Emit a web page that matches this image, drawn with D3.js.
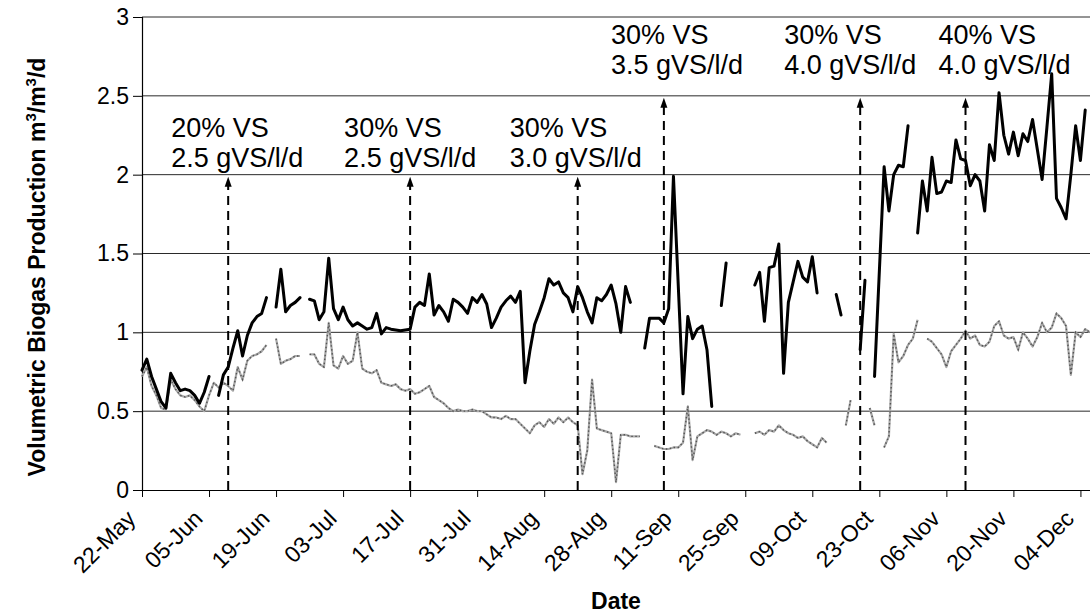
<!DOCTYPE html>
<html>
<head>
<meta charset="utf-8">
<script src="https://cdn.jsdelivr.net/npm/d3@7"></script>
<style>
  html, body { margin: 0; padding: 0; background: #fff; }
  svg { display: block; }
  text { font-family: "Liberation Sans", Arial, Helvetica, sans-serif; fill: #000; }
</style>
</head>
<body>
<svg id="chart" width="1090" height="613"></svg>
<script>
// ---- data -------------------------------------------------------------
const year = 2005;
const startLabel = "22-May";
const endLabel = "06-Dec";
const xTickLabels = ["22-May", "05-Jun", "19-Jun", "03-Jul", "17-Jul", "31-Jul", "14-Aug",
  "28-Aug", "11-Sep", "25-Sep", "09-Oct", "23-Oct", "06-Nov", "20-Nov", "04-Dec"];
const yTicks = [0, 0.5, 1, 1.5, 2, 2.5, 3];

// day offsets from 22-May; a null value breaks the line
const blackDays = [0,1,2,3,4,5,6,7,8,9,10,11,12,13,14,15,16,17,18,19,20,21,22,23,24,25,26,27,
  28,29,30,31,32,33,34,35,36,37,38,39,40,41,42,43,44,45,46,47,48,49,50,51,52,54,56,57,58,59,
  60,61,62,63,64,65,66,67,68,69,70,71,72,73,74,75,76,77,78,79,80,81,82,83,84,85,86,87,88,89,
  90,91,92,93,94,95,96,97,98,99,100,101,102,103,105,106,107,108,109,110,111,113,114,115,116,
  117,118,119,120,121,122,123,128,129,130,131,132,133,134,135,136,137,138,139,140,141,142,
  145,146,147,150,151,152,153,155,156,157,158,159,160,161,162,163,164,165,166,167,168,169,
  170,171,172,173,174,175,176,177,178,179,180,181,182,183,184,185,186,188,189,190,191,192,
  193,194,195,196,197];
const blackValues = [0.76,0.83,0.72,0.64,0.56,0.52,0.74,0.68,0.63,0.64,0.63,0.60,0.55,0.62,0.72,
  null,0.60,0.73,0.78,0.90,1.01,0.85,0.98,1.06,1.10,1.12,1.22,null,
  1.16,1.40,1.13,1.17,1.19,1.22,null,1.21,1.20,1.08,1.13,1.47,1.15,1.08,1.16,1.08,1.04,1.06,
  1.04,1.02,1.03,1.12,0.99,1.03,1.02,1.01,1.02,1.16,1.19,1.17,
  1.37,1.11,1.17,1.13,1.07,1.21,1.19,1.16,1.12,1.22,1.19,1.24,1.18,1.03,1.09,1.16,1.20,1.23,
  1.19,1.26,0.68,0.88,1.05,1.13,1.22,1.34,1.30,1.32,1.25,1.22,
  1.13,1.29,1.22,1.13,1.06,1.22,1.20,1.24,1.30,1.18,1.00,1.29,1.19,null,0.90,1.09,1.09,1.09,
  1.06,1.15,1.99,0.61,1.10,0.96,1.02,
  1.04,0.89,0.53,null,1.17,1.44,null,1.30,1.38,1.07,1.41,1.42,1.56,0.74,1.19,1.32,1.45,1.35,
  1.32,1.48,1.25,null,
  1.24,1.11,null,0.89,1.33,null,0.72,2.05,1.77,2.00,2.06,2.05,2.31,null,1.63,1.96,1.77,2.11,
  1.88,1.89,1.96,1.95,
  2.22,2.10,2.09,1.93,2.00,1.96,1.77,2.19,2.09,2.52,2.25,2.13,2.27,2.12,2.26,2.21,2.35,1.97,
  2.30,2.64,1.85,1.79,
  1.72,2.00,2.31,2.09,2.41];

const greyDays = [0,1,2,3,4,5,6,7,8,9,10,11,12,13,14,15,16,17,18,19,20,21,22,23,24,25,26,27,
  28,29,30,31,32,33,34,35,36,37,38,39,40,41,42,43,44,45,46,47,48,49,50,51,52,53,54,55,56,57,
  58,59,60,61,62,63,64,65,66,67,68,69,70,71,72,73,74,75,76,77,78,79,80,81,82,83,84,85,86,87,
  88,89,90,91,92,93,94,95,96,97,98,99,100,101,102,103,104,105,107,108,109,110,111,112,113,
  114,115,116,117,118,119,120,121,122,123,124,125,126,128,129,130,131,132,133,134,135,136,
  137,138,139,140,141,142,143,144,147,148,149,152,153,154,155,156,157,158,159,160,161,162,
  163,164,165,166,167,168,169,170,171,172,173,174,175,176,177,178,179,180,181,182,183,184,
  185,186,187,188,189,190,191,192,193,194,195,196,197,198];
const greyValues = [0.72,0.78,0.66,0.60,0.52,0.51,0.70,0.64,0.60,0.59,0.60,0.57,0.53,0.50,0.60,
  0.68,0.65,0.68,0.66,0.63,0.78,0.70,0.82,0.85,0.86,0.88,0.92,null,
  0.96,0.80,0.82,0.83,0.85,0.85,null,0.86,0.86,0.80,0.78,1.06,0.79,0.77,0.85,0.80,0.82,1.00,
  0.77,0.75,0.74,0.76,0.68,0.67,0.66,0.67,0.64,0.63,0.64,0.61,
  0.62,0.64,0.66,0.59,0.57,0.55,0.52,0.50,0.51,0.50,0.50,0.51,0.50,0.50,0.48,0.46,0.46,0.45,
  0.47,0.45,0.45,0.42,0.39,0.36,0.41,0.43,0.40,0.45,0.42,0.46,
  0.43,0.46,0.43,0.41,0.10,0.25,0.70,0.39,0.38,0.37,0.36,0.05,0.35,0.35,0.34,0.34,0.34,null,
  0.28,0.27,0.26,0.26,0.27,0.27,0.30,
  0.53,0.19,0.34,0.36,0.38,0.37,0.35,0.37,0.36,0.34,0.36,0.35,null,0.36,0.37,0.35,0.38,0.37,
  0.41,0.38,0.36,0.35,
  0.33,0.34,0.31,0.29,0.27,0.33,0.30,null,0.41,0.57,null,0.52,0.41,null,0.27,0.34,0.99,0.81,
  0.85,0.92,0.96,1.08,
  null,0.96,0.94,0.90,0.86,0.78,0.88,0.92,0.96,1.01,0.96,0.98,0.92,0.91,0.94,1.04,1.07,0.98,
  0.96,0.97,0.89,1.00,
  0.96,0.91,0.97,1.06,1.00,1.03,1.12,1.09,1.04,0.73,1.00,0.97,1.02,1.00];

// feed-regime changes (day offsets) with their labels
const changeDays = [18, 56, 91, 109, 150, 172];
const changeVS = ["20% VS", "30% VS", "30% VS", "30% VS", "30% VS", "40% VS"];
const changeLoad = ["2.5 gVS/l/d", "2.5 gVS/l/d", "3.0 gVS/l/d", "3.5 gVS/l/d", "4.0 gVS/l/d", "4.0 gVS/l/d"];

// ---- layout -----------------------------------------------------------
const W = 1090, H = 613;
const plot = { left: 142, right: 1090, top: 17, bottom: 490 };
const parseDay = d3.utcParse("%d-%b-%Y");
const dayOf = label => parseDay(label + "-" + year);
const start = dayOf(startLabel);
const toDate = n => d3.utcDay.offset(start, n);

const x = d3.scaleUtc().domain([start, dayOf(endLabel)]).range([plot.left, plot.right]);
const y = d3.scaleLinear().domain([0, 3]).range([plot.bottom, plot.top]);

const svg = d3.select("#chart");

// horizontal gridlines
svg.append("g").selectAll("line")
  .data(yTicks.filter(v => v > 0))
  .join("line")
  .attr("x1", plot.left).attr("x2", plot.right)
  .attr("y1", d => y(d)).attr("y2", d => y(d))
  .attr("stroke", "#2a2a2a").attr("stroke-width", 1);

// y axis
const yAxis = svg.append("g")
  .attr("transform", `translate(${plot.left},0)`)
  .call(d3.axisLeft(y).tickValues(yTicks).tickSize(9).tickPadding(4).tickFormat(d => String(d)));
yAxis.select(".domain").attr("stroke", "#000").attr("stroke-width", 1.2);
yAxis.selectAll(".tick line").attr("stroke", "#000");
yAxis.selectAll(".tick text")
  .attr("font-size", 23).attr("font-family", "Liberation Sans, Arial, sans-serif").attr("fill", "#000");

// x axis
const tickDates = xTickLabels.map(dayOf);
const xAxis = svg.append("g")
  .attr("transform", `translate(0,${plot.bottom})`)
  .call(d3.axisBottom(x).tickValues(tickDates).tickSize(7).tickSizeOuter(0).tickFormat(() => ""));
xAxis.select(".domain").attr("stroke", "#000").attr("stroke-width", 1.2);
xAxis.selectAll(".tick line").attr("stroke", "#000");

svg.append("g").selectAll("text")
  .data(tickDates)
  .join("text")
  .attr("transform", (d, i) => `translate(${x(d) - 5},${plot.bottom + 30}) rotate(-45)`)
  .attr("text-anchor", "end")
  .attr("font-size", 23)
  .text((d, i) => xTickLabels[i]);

// axis titles
svg.append("text")
  .attr("x", (plot.left + plot.right) / 2).attr("y", 609)
  .attr("text-anchor", "middle")
  .attr("font-size", 23).attr("font-weight", "bold")
  .text("Date");

const yTitle = svg.append("text")
  .attr("transform", "translate(45,267) rotate(-90)")
  .attr("text-anchor", "middle")
  .attr("font-size", 23).attr("font-weight", "bold");
yTitle.append("tspan").text("Volumetric Biogas Production m");
yTitle.append("tspan").attr("font-size", 15).attr("dy", -9).text("3");
yTitle.append("tspan").attr("dy", 9).text("/m");
yTitle.append("tspan").attr("font-size", 15).attr("dy", -9).text("3");
yTitle.append("tspan").attr("dy", 9).text("/d");

// series
const line = d3.line()
  .defined(d => d.v != null)
  .x(d => x(toDate(d.day)))
  .y(d => y(d.v));

const greyData = greyDays.map((d, i) => ({ day: d, v: greyValues[i] }));
const blackData = blackDays.map((d, i) => ({ day: d, v: blackValues[i] }));

svg.append("path")
  .attr("d", line(greyData))
  .attr("fill", "none")
  .attr("stroke", "#a8a8a8").attr("stroke-width", 2.2)
  .attr("stroke-linejoin", "round");
svg.append("path")
  .attr("d", line(greyData))
  .attr("fill", "none")
  .attr("stroke", "#555").attr("stroke-width", 1.4)
  .attr("stroke-dasharray", "1.5,2.5");

svg.append("path")
  .attr("d", line(blackData))
  .attr("fill", "none")
  .attr("stroke", "#000").attr("stroke-width", 3)
  .attr("stroke-linejoin", "round").attr("stroke-linecap", "round");

// regime-change arrows and labels
const arrowTop = [2, 2, 2, 2.5, 2.5, 2.5];
const labelShift = [-57, -66, -68, -53, -76, -27];
const labelBase = [137, 137, 137, 44, 44, 44];

const arrows = svg.append("g");
changeDays.forEach((d, i) => {
  const ax = x(toDate(d));
  const tip = y(arrowTop[i]) + 2;
  arrows.append("line")
    .attr("x1", ax).attr("x2", ax)
    .attr("y1", plot.bottom).attr("y2", tip + 8)
    .attr("stroke", "#000").attr("stroke-width", 2)
    .attr("stroke-dasharray", "9,6");
  arrows.append("path")
    .attr("d", `M${ax},${tip} L${ax - 3.5},${tip + 10} L${ax + 3.5},${tip + 10} Z`)
    .attr("fill", "#000");
  const t = svg.append("text")
    .attr("x", ax + labelShift[i]).attr("y", labelBase[i])
    .attr("font-size", 27);
  t.append("tspan").attr("x", ax + labelShift[i]).text(changeVS[i]);
  t.append("tspan").attr("x", ax + labelShift[i]).attr("dy", 30).text(changeLoad[i]);
});
</script>
</body>
</html>
